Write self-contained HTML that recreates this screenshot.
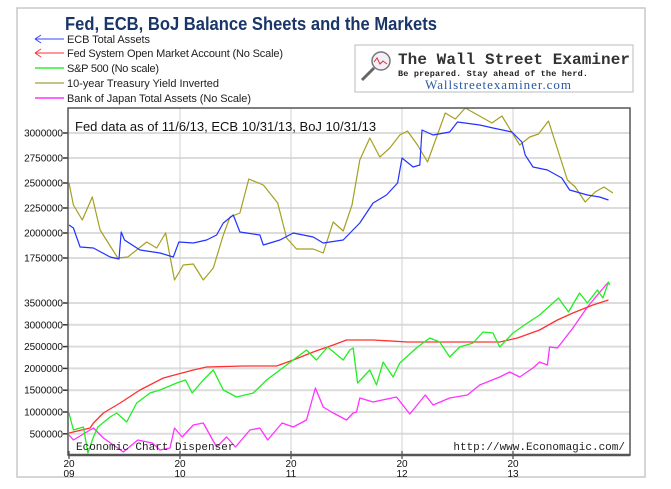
<!DOCTYPE html>
<html><head><meta charset="utf-8"><style>
html,body{margin:0;padding:0;background:#fff;}
svg{display:block;font-family:"Liberation Sans",sans-serif;}
</style></head><body>
<svg id="chart" width="671" height="489" viewBox="0 0 671 489">
<rect x="17" y="8" width="628" height="469" fill="#fff" stroke="#c8c8c8" stroke-width="1.5"/>
<text x="65" y="30" font-size="18" font-weight="bold" fill="#1a3668" textLength="372" lengthAdjust="spacingAndGlyphs">Fed, ECB, BoJ Balance Sheets and the Markets</text>
<g font-size="11" fill="#222">
 <g><path d="M35 39H64M35 39l6-4M35 39l6 4" stroke="#3344ff" fill="none"/><text x="67" y="43" textLength="83">ECB Total Assets</text></g>
 <g><path d="M35 53H64M35 53l6-4M35 53l6 4" stroke="#ff3333" fill="none"/><text x="67" y="57" textLength="216">Fed System Open Market Account (No Scale)</text></g>
 <g><path d="M35 68H64" stroke="#33ee33" stroke-width="1.5"/><text x="67" y="72" textLength="92">S&amp;P 500 (No scale)</text></g>
 <g><path d="M35 83H64" stroke="#8a8a10"/><text x="67" y="87" textLength="152">10-year Treasury Yield Inverted</text></g>
 <g><path d="M35 98H64" stroke="#ff33ff" stroke-width="1.5"/><text x="67" y="102" textLength="184">Bank of Japan Total Assets (No Scale)</text></g>
</g>
<g>
 <rect x="355" y="45" width="278" height="47" fill="#fff" stroke="#bbb"/>
 <circle cx="381" cy="61" r="9" fill="#f4eef8" stroke="#777" stroke-width="1.5"/>
 <path d="M374 68L362 80" stroke="#666" stroke-width="3"/>
 <path d="M374 62l3-4 3 6 3-3 4 3" stroke="#d33" fill="none"/>
 <text x="398" y="64" font-family="Liberation Mono,monospace" font-weight="bold" font-size="16" fill="#333" textLength="232">The Wall Street Examiner</text>
 <text x="398" y="76" font-family="Liberation Mono,monospace" font-weight="bold" font-size="8.5" fill="#222" textLength="190">Be prepared. Stay ahead of the herd.</text>
 <text x="425" y="89" font-family="Liberation Serif,serif" font-size="13" fill="#2a5aa0" textLength="146">Wallstreetexaminer.com</text>
</g>
<g id="grid"></g>
<g id="series"></g>
<g id="axes"></g>
<text x="75" y="131" font-size="13" fill="#111">Fed data as of 11/6/13, ECB 10/31/13, BoJ 10/31/13</text>
<text x="76" y="450" font-family="Liberation Mono,monospace" font-size="11" fill="#222">Economic Chart Dispenser</text>
<text x="625" y="450" text-anchor="end" font-family="Liberation Mono,monospace" font-size="11" fill="#222">http://www.Economagic.com/</text>
</svg>
<script>
const upperTicks=[3000000,2750000,2500000,2250000,2000000,1750000];
const lowerTicks=[3500000,3000000,2500000,2000000,1500000,1000000,500000];
const yearTicks=[2009,2010,2011,2012,2013];
const ecbT=[2009.00,2009.04,2009.10,2009.22,2009.37,2009.45,2009.47,2009.50,2009.64,2009.82,2009.94,2009.99,2010.12,2010.24,2010.33,2010.39,2010.48,2010.54,2010.72,2010.75,2010.90,2011.02,2011.20,2011.29,2011.47,2011.62,2011.74,2011.86,2011.96,2012.00,2012.10,2012.16,2012.18,2012.28,2012.43,2012.50,2012.70,2012.82,2012.99,2013.08,2013.11,2013.18,2013.31,2013.44,2013.51,2013.67,2013.78,2013.86];
const ecbV=[2080000,2050000,1860000,1850000,1760000,1740000,2010000,1930000,1830000,1800000,1760000,1910000,1900000,1930000,1980000,2100000,2180000,2010000,1980000,1880000,1930000,2000000,1960000,1900000,1930000,2100000,2300000,2380000,2500000,2750000,2660000,2680000,3030000,2980000,3010000,3110000,3080000,3050000,3010000,2910000,2780000,2660000,2630000,2550000,2430000,2380000,2360000,2330000];
const tsyT=[2009.00,2009.04,2009.12,2009.21,2009.28,2009.44,2009.53,2009.70,2009.79,2009.87,2009.95,2010.03,2010.12,2010.21,2010.30,2010.39,2010.45,2010.54,2010.62,2010.75,2010.88,2010.96,2011.05,2011.20,2011.29,2011.38,2011.47,2011.55,2011.62,2011.71,2011.80,2011.89,2011.98,2012.05,2012.14,2012.23,2012.39,2012.48,2012.57,2012.81,2012.90,2013.06,2013.15,2013.23,2013.32,2013.49,2013.56,2013.65,2013.74,2013.82,2013.90];
const tsyV=[2500000,2280000,2130000,2360000,2030000,1750000,1760000,1910000,1850000,2000000,1530000,1680000,1690000,1530000,1650000,1980000,2160000,2200000,2540000,2480000,2300000,1950000,1840000,1840000,1800000,2110000,2020000,2280000,2730000,2950000,2760000,2850000,2980000,3020000,2880000,2710000,3200000,3140000,3250000,3100000,3170000,2880000,2960000,2990000,3120000,2530000,2460000,2310000,2410000,2460000,2400000];
const fedT=[2009.00,2009.19,2009.22,2009.31,2009.46,2009.64,2009.85,2010.12,2010.24,2010.57,2010.87,2011.02,2011.20,2011.38,2011.50,2011.62,2011.74,2012.05,2012.64,2012.88,2013.04,2013.24,2013.40,2013.54,2013.72,2013.86];
const fedV=[518000,633000,748000,977000,1206000,1505000,1780000,1963000,2032000,2055000,2055000,2193000,2376000,2537000,2651000,2651000,2651000,2605000,2605000,2605000,2697000,2880000,3110000,3270000,3454000,3569000];
const spxT=[2009.00,2009.04,2009.13,2009.17,2009.22,2009.26,2009.37,2009.43,2009.52,2009.61,2009.73,2009.82,2009.97,2010.05,2010.11,2010.21,2010.30,2010.39,2010.51,2010.66,2010.78,2010.90,2011.02,2011.14,2011.23,2011.33,2011.47,2011.53,2011.56,2011.60,2011.71,2011.77,2011.83,2011.92,2011.98,2012.14,2012.25,2012.34,2012.43,2012.52,2012.64,2012.73,2012.82,2012.88,2013.00,2013.13,2013.24,2013.41,2013.50,2013.60,2013.67,2013.76,2013.81,2013.86,2013.87];
const spxV=[977000,587000,656000,60000,427000,656000,885000,977000,771000,1206000,1436000,1505000,1665000,1734000,1436000,1734000,1963000,1505000,1344000,1436000,1734000,1963000,2193000,2422000,2193000,2491000,2193000,2422000,2468000,1665000,1963000,1620000,2147000,1803000,2124000,2491000,2697000,2605000,2261000,2491000,2582000,2835000,2812000,2491000,2812000,3041000,3225000,3615000,3294000,3730000,3500000,3798000,3615000,3982000,3913000];
const bojT=[2009.00,2009.04,2009.22,2009.31,2009.49,2009.62,2009.75,2009.82,2009.91,2009.95,2010.02,2010.12,2010.21,2010.33,2010.42,2010.50,2010.63,2010.72,2010.79,2010.92,2011.02,2011.14,2011.22,2011.29,2011.38,2011.50,2011.56,2011.59,2011.62,2011.74,2011.95,2012.07,2012.21,2012.28,2012.43,2012.59,2012.70,2012.88,2012.97,2013.06,2013.18,2013.24,2013.31,2013.33,2013.40,2013.54,2013.67,2013.76,2013.86];
const bojV=[472000,358000,633000,404000,83000,358000,289000,129000,174000,633000,427000,702000,748000,197000,427000,197000,587000,633000,358000,748000,656000,817000,1550000,1115000,977000,817000,977000,1000000,1321000,1229000,1344000,954000,1390000,1161000,1321000,1390000,1620000,1803000,1917000,1803000,2009000,2147000,2078000,2491000,2468000,2926000,3408000,3684000,3982000];

const PL=68,PR=630,PT=108,PB=455;
function xS(t){return 69+(t-2009)*111;}
function yU(v){return 133+(3000000-v)/10000;}
function yL(v){return 303+(3500000-v)/500000*21.8;}
const NS='http://www.w3.org/2000/svg';
function mk(tag,attrs,parent){const e=document.createElementNS(NS,tag);for(const k in attrs)e.setAttribute(k,attrs[k]);parent.appendChild(e);return e;}
const grid=document.getElementById('grid'),series=document.getElementById('series'),axes=document.getElementById('axes');

upperTicks.forEach(v=>{
 const y=yU(v);
 const g=mk('line',{x1:PL,x2:PR,y1:y,y2:y,stroke:'#dcdcdc','stroke-width':2},grid);
 
 
 const t=mk('text',{x:63,y:y+3.5,'text-anchor':'end','font-size':10,fill:'#111'},axes);
 t.textContent=v;
 
 
 mk('line',{x1:63,x2:68,y1:y,y2:y,stroke:'#333','stroke-width':1.5},axes);
});
lowerTicks.forEach(v=>{
 const y=yL(v);
 const g=mk('line',{x1:PL,x2:PR,y1:y,y2:y,stroke:'#dcdcdc','stroke-width':2},grid);
 
 
 const t=mk('text',{x:63,y:y+3.5,'text-anchor':'end','font-size':10,fill:'#111'},axes);
 t.textContent=v;
 
 
 mk('line',{x1:63,x2:68,y1:y,y2:y,stroke:'#333','stroke-width':1.5},axes);
});
yearTicks.forEach(yr=>{
 const x=xS(yr);
 if(yr>2009){
  const g=mk('line',{x1:x,x2:x,y1:PT,y2:PB,stroke:'#d0d0d0','stroke-width':1},grid);
  
  
 }
 mk('line',{x1:x,x2:x,y1:PB-4,y2:PB+4,stroke:'#222'},axes);
 const t1=mk('text',{x:x,y:467,'text-anchor':'middle','font-size':10,fill:'#111'},axes);
 t1.textContent=String(yr).slice(0,2);
 
 
 const t2=mk('text',{x:x,y:477,'text-anchor':'middle','font-size':10,fill:'#111'},axes);
 t2.textContent=String(yr).slice(2);
 
 
});
const box=mk('rect',{x:PL,y:PT,width:PR-PL,height:PB-PT,fill:'none',stroke:'#555','stroke-width':1.5},axes);


const bax=mk('line',{x1:PL,x2:PR,y1:PB,y2:PB,stroke:'#555','stroke-width':2.5},axes);



function line(ts,vs,yf,color,w,name){
 const n=Math.min(ts.length,vs.length);let d='';
 for(let i=0;i<n;i++){d+=(i?'L':'M')+xS(ts[i]).toFixed(1)+' '+Math.min(PB,yf(vs[i])).toFixed(1);}
 const p=mk('path',{d:d,fill:'none',stroke:color,'stroke-width':w,'stroke-linejoin':'round'},series);
 
 
}
line(tsyT,tsyV,yU,'#a5a020',1.2,'treasury-yield-line');
line(ecbT,ecbV,yU,'#2233ff',1.2,'ecb-assets-line');
line(bojT,bojV,yL,'#ff33ff',1.3,'boj-assets-line');
line(fedT,fedV,yL,'#ff3030',1.3,'fed-soma-line');
line(spxT,spxV,yL,'#22ee22',1.3,'sp500-line');
</script>
</body></html>
